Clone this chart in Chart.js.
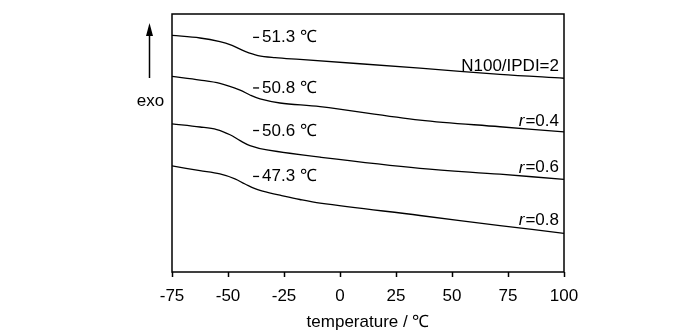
<!DOCTYPE html>
<html>
<head>
<meta charset="utf-8">
<script src="https://cdn.jsdelivr.net/npm/chart.js@4.4.1/dist/chart.umd.min.js"></script>
<style>
html,body{margin:0;padding:0;background:#fff;}
#wrap{width:700px;height:336px;position:relative;}
</style>
</head>
<body>
<div id="wrap"><canvas id="c" width="700" height="336"></canvas></div>
<script>
// temperature (°C) values sampled along each DSC curve
const tempN100 = [-75, -62.5, -53.6, -48.2, -42.4, -36.6, -29.0, -17.9, 35.7, 71.4, 100];
const heatN100 = [9.17, 9.07, 8.93, 8.78, 8.55, 8.39, 8.31, 8.24, 7.90, 7.66, 7.51];

const tempR04 = [-75, -62.5, -53.6, -44.6, -40.2, -35.7, -26.8, -8.9, 35.7, 71.4, 100];
const heatR04 = [7.58, 7.44, 7.31, 7.05, 6.86, 6.71, 6.55, 6.41, 5.89, 5.63, 5.43];

const tempR06 = [-75, -62.5, -55.0, -49.1, -44.6, -40.2, -32.6, -8.9, 35.7, 71.4, 100];
const heatR06 = [5.74, 5.62, 5.52, 5.32, 5.09, 4.90, 4.73, 4.45, 4.02, 3.79, 3.59];

const tempR08 = [-75, -62.5, -53.6, -46.9, -42.4, -35.7, -26.8, -17.9, -8.9, 35.7, 71.4, 100];
const heatR08 = [4.11, 3.93, 3.80, 3.61, 3.41, 3.16, 2.98, 2.81, 2.67, 2.19, 1.80, 1.50];

const xTicks = [-75, -50, -25, 0, 25, 50, 75, 100];
const tgLabels = ['51.3', '50.8', '50.6', '47.3'];
const seriesNames = ['N100/IPDI=2', '0.4', '0.6', '0.8'];

const FONT = '"Liberation Sans", Arial, sans-serif';

function pts(xs, ys){ return xs.map((x,i)=>({x:x, y:ys[i]})); }
function ds(xs, ys){
  return {data: pts(xs, ys), borderColor:'#000', borderWidth:1.3, pointRadius:0,
          fill:false, tension:0.35};
}

const annot = {
  id:'annot',
  afterDraw(chart){
    const ctx = chart.ctx, a = chart.chartArea;
    const xs = chart.scales.x, ys = chart.scales.y;
    ctx.save();
    ctx.strokeStyle = '#000'; ctx.lineWidth = 1.5;
    ctx.strokeRect(a.left, a.top, a.right - a.left, a.bottom - a.top);
    const tgY = [9.08, 7.12, 5.47, 3.69];
    ctx.fillStyle = '#000';
    ctx.textBaseline = 'middle';
    ctx.textAlign = 'left';
    tgLabels.forEach((t,i)=>{
      const x = xs.getPixelForValue(-38.8), y = ys.getPixelForValue(tgY[i]);
      ctx.font = '17px ' + FONT;
      ctx.fillRect(x, y - 1, 6, 1.3);
      ctx.fillText(t, x + 9, y);
      const w = ctx.measureText(t).width;
      ctx.fillText('\u2103', x + 9 + w + 5, y);
    });
    const rY = [7.98, 5.85, 4.04, 2.0];
    ctx.textAlign = 'right';
    seriesNames.forEach((t,i)=>{
      const xr = a.right - 5, y = ys.getPixelForValue(rY[i]);
      ctx.font = '17px ' + FONT;
      if (i === 0){
        ctx.fillText(t, xr, y);
      } else {
        const s = '=' + t;
        ctx.fillText(s, xr, y);
        const w = ctx.measureText(s).width;
        ctx.font = 'italic 17px ' + FONT;
        ctx.fillText('r', xr - w - 1, y);
      }
    });
    const ax = a.left - 22.5;
    ctx.lineWidth = 1.5;
    ctx.beginPath(); ctx.moveTo(ax, a.top + 18); ctx.lineTo(ax, a.top + 64); ctx.stroke();
    ctx.beginPath();
    ctx.moveTo(ax, a.top + 9); ctx.lineTo(ax - 3.5, a.top + 22); ctx.lineTo(ax + 3.5, a.top + 22);
    ctx.closePath(); ctx.fill();
    ctx.textAlign = 'center';
    ctx.font = '17px ' + FONT;
    ctx.fillText('exo', ax + 1, a.top + 87);
    ctx.restore();
  }
};

new Chart(document.getElementById('c'), {
  type:'line',
  data:{ datasets:[ds(tempN100, heatN100), ds(tempR04, heatR04), ds(tempR06, heatR06), ds(tempR08, heatR08)] },
  options:{
    responsive:false, animation:false,
    layout:{padding:{left:172, right:136, top:14, bottom:0}},
    plugins:{legend:{display:false}, tooltip:{enabled:false}},
    scales:{
      x:{
        type:'linear', min:-75, max:100,
        afterBuildTicks(s){ s.ticks = xTicks.map(v=>({value:v})); },
        afterFit(s){ s.height = 64; },
        border:{display:false},
        grid:{drawOnChartArea:false, drawTicks:true, tickLength:5, tickColor:'#000', tickWidth:1.5},
        ticks:{color:'#000', padding:9, maxRotation:0, font:{family:FONT, size:17}},
        title:{display:true, text:'temperature / \u2103', color:'#000', font:{family:FONT, size:17}, padding:{top:0, bottom:3}}
      },
      y:{ display:false, min:0, max:10 }
    }
  },
  plugins:[annot]
});
</script>
</body>
</html>
